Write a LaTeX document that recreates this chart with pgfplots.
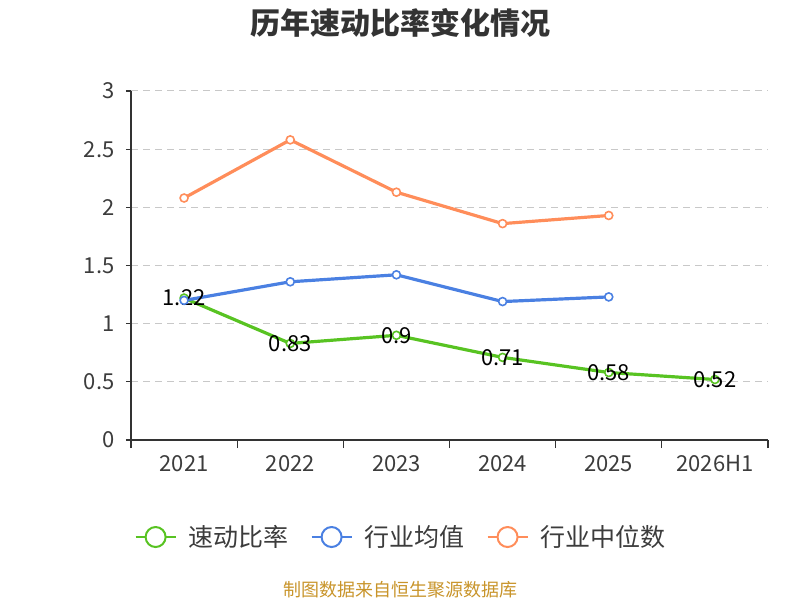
\documentclass[border=0pt]{standalone}
\usepackage{pgfplots}
\pgfplotsset{compat=1.18}
\usepackage{fontspec}
\setmainfont{Noto Sans CJK SC}
\definecolor{cgreen}{RGB}{88,195,34}
\definecolor{cblue}{RGB}{74,128,226}
\definecolor{corange}{RGB}{255,141,90}
\definecolor{caxis}{RGB}{51,51,51}
\definecolor{ctext}{RGB}{60,60,60}
\definecolor{cgrid}{RGB}{200,200,200}
\definecolor{csrc}{RGB}{200,148,42}
\begin{document}
\begin{tikzpicture}
\path[use as bounding box] (0,0) rectangle (800bp,600bp);
\node[font=\fontsize{30bp}{34bp}\selectfont\bfseries, text=caxis] at (400bp,577bp) {历年速动比率变化情况};
\node[font=\fontsize{18bp}{21bp}\selectfont, text=csrc] at (400bp,10bp) {制图数据来自恒生聚源数据库};
\begin{axis}[
  at={(131bp,160bp)}, anchor=south west,
  scale only axis, width=637bp, height=349bp,
  xmin=-0.5, xmax=5.5, ymin=0, ymax=3,
  axis x line*=bottom, axis y line*=left,
  axis line style={-, draw=caxis, line width=1.3pt},
  xtick={0,1,2,3,4,5},
  xticklabels={2021,2022,2023,2024,2025,2026H1},
  minor xtick={-0.5,0.5,1.5,2.5,3.5,4.5,5.5},
  major x tick style={draw=none},
  minor x tick style={draw=caxis, line width=1.3pt},
  minor tick length=8bp,
  ytick={0,0.5,1,1.5,2,2.5,3},
  yticklabels={0,0.5,1,1.5,2,2.5,3},
  major y tick style={draw=caxis, line width=1.3pt},
  major tick length=5bp,
  tick align=outside,
  ymajorgrids,
  grid style={cgrid, dash pattern=on 7bp off 5bp, line width=1pt},
  ticklabel style={font=\fontsize{22bp}{26bp}\selectfont, text=ctext},
  x tick label style={yshift=-7bp},
  y tick label style={xshift=-8bp},
  /pgf/number format/assume math mode=true,
  clip=false,
  legend columns=3,
  legend style={at={(0.424,-0.278)}, anchor=center, draw=none, fill=none,
    font=\fontsize{25bp}{30bp}\selectfont, text=ctext,
    /tikz/every odd column/.append style={column sep=10bp},
    /tikz/every even column/.append style={column sep=20bp}},
  legend image code/.code={
    \draw[#1, line width=2pt] (0bp,0bp) -- (40bp,0bp);
    \draw[#1, line width=2pt, fill=white] (20bp,0bp) circle (10bp);
  },
]
\addplot[cgreen, line width=3.2pt, mark=*, mark size=4bp, mark options={fill=white, line width=1.6pt},
  nodes near coords, point meta=explicit symbolic,
  every node near coord/.append style={anchor=center, yshift=0bp, text=black, font=\fontsize{22bp}{26bp}\selectfont}]
  coordinates {(0,1.22)[1.22] (1,0.83)[0.83] (2,0.9)[0.9] (3,0.71)[0.71] (4,0.58)[0.58] (5,0.52)[0.52]};
\addlegendentry{速动比率}
\addplot[cblue, line width=3.2pt, mark=*, mark size=4bp, mark options={fill=white, line width=1.6pt}]
  coordinates {(0,1.20) (1,1.36) (2,1.42) (3,1.19) (4,1.23)};
\addlegendentry{行业均值}
\addplot[corange, line width=3.2pt, mark=*, mark size=4bp, mark options={fill=white, line width=1.6pt}]
  coordinates {(0,2.08) (1,2.58) (2,2.13) (3,1.86) (4,1.93)};
\addlegendentry{行业中位数}
\end{axis}
\end{tikzpicture}
\end{document}
